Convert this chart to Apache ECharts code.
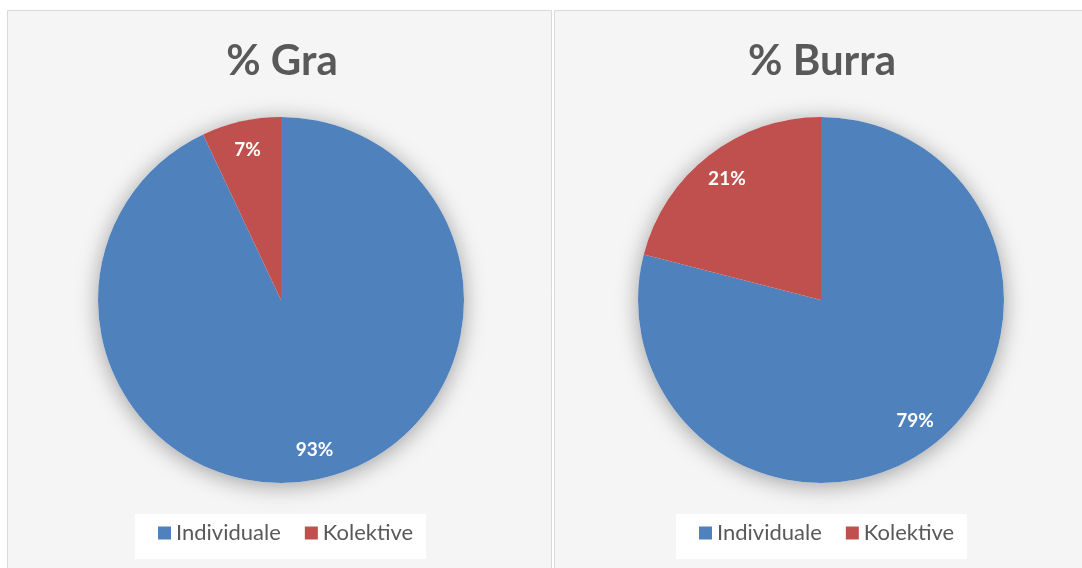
<!DOCTYPE html>
<html><head><meta charset="utf-8">
<script src="https://cdn.jsdelivr.net/npm/echarts@6/dist/echarts.min.js"></script>
<style>html,body{margin:0;padding:0;background:#fff}#c{width:1082px;height:568px}</style>
</head><body><div id="c"></div>
<script>
var categories = ['Individuale', 'Kolektive'];
var graValues = [93, 7];
var burraValues = [79, 21];
var titles = ['% Gra', '% Burra'];
var colors = ['#4f81bd', '#c0504d'];

var chart = echarts.init(document.getElementById('c'), null, {renderer: 'canvas'});
var centers = [[281, 300], [821, 300]];
var R = 183;
var FONT = 'Lato, "Open Sans", sans-serif';
function mk(vals){ return categories.map(function(n,i){ return {name:n, value: vals[i]}; }); }
var datasets = [graValues, burraValues];
var series = [];
datasets.forEach(function(vals, k){
  series.push({
    type:'pie', silent:true, center:centers[k], radius:[0, R], startAngle:90,
    data:[{name:'_s', value:1}], z:1, label:{show:false}, labelLine:{show:false},
    itemStyle:{color:'#ffffff', shadowBlur:22, shadowColor:'rgba(0,0,0,0.35)', shadowOffsetY:3},
    legendHoverLink:false
  });
  series.push({
    type:'pie', center:centers[k], radius:[0, R], startAngle:90, clockwise:true,
    data: mk(vals), z:2, color: colors, animation:false,
    label:{show:false}, labelLine:{show:false},
    itemStyle:{borderWidth:0}
  });
  series.push({
    type:'pie', silent:true, center:centers[k], radius:[118, R], startAngle:90, clockwise:true,
    data: mk(vals), z:3, animation:false,
    itemStyle:{color:'rgba(0,0,0,0)'},
    label:{show:true, position:'inside', formatter:'{c}%', color:'#fff', fontWeight:'bold',
      fontSize:19, fontFamily:FONT},
    labelLine:{show:false}
  });
});

chart.setOption({
  animation:false,
  backgroundColor:'#ffffff',
  graphic:[
    {type:'rect', shape:{x:7.5, y:10.5, width:544, height:570}, style:{fill:'#f5f5f5', stroke:'#d9d9d9', lineWidth:1}, z:-10},
    {type:'rect', shape:{x:554.5, y:10.5, width:540, height:570}, style:{fill:'#f5f5f5', stroke:'#d9d9d9', lineWidth:1}, z:-10},
    {type:'rect', shape:{x:135, y:514, width:291, height:45}, style:{fill:'#ffffff'}, z:-5},
    {type:'rect', shape:{x:676, y:514, width:291, height:45}, style:{fill:'#ffffff'}, z:-5}
  ],
  title:[
    {text:titles[0], left:277, top:35, textAlign:'center', textStyle:{fontSize:42, fontWeight:'bold', color:'#595959', fontFamily:FONT}},
    {text:titles[1], left:817, top:35, textAlign:'center', textStyle:{fontSize:42, fontWeight:'bold', color:'#595959', fontFamily:FONT}}
  ],
  color: colors,
  legend:[
    {data:categories, left:153, top:517, itemWidth:13, itemHeight:13, itemGap:24, icon:'rect',
     textStyle:{fontSize:22, color:'#595959', fontFamily:FONT}, selectedMode:false},
    {data:categories, left:694, top:517, itemWidth:13, itemHeight:13, itemGap:24, icon:'rect',
     textStyle:{fontSize:22, color:'#595959', fontFamily:FONT}, selectedMode:false}
  ],
  series: series
});
</script></body></html>
